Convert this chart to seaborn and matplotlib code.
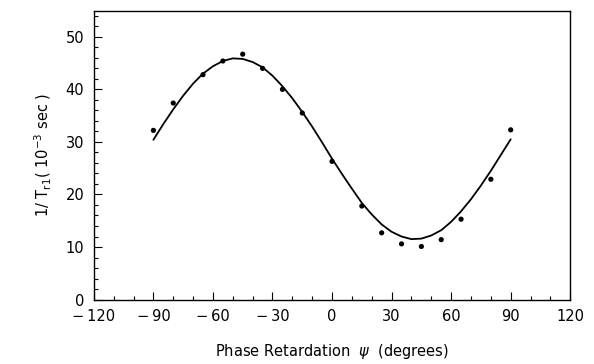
import matplotlib
matplotlib.use('Agg')
import matplotlib.pyplot as plt
from matplotlib.ticker import MultipleLocator
import seaborn as sns
import pandas as pd

# measured points: phase retardation (deg) vs 1/T_r1 (1e-3 /sec)
psi_meas = [-90, -80, -65, -55, -45, -35, -25, -15, 0, 15, 25, 35, 45, 55, 65, 80, 90]
rate_meas = [32.2, 37.4, 42.8, 45.4, 46.7, 44.0, 40.0, 35.5, 26.3,
             17.8, 12.7, 10.6, 10.1, 11.4, 15.3, 22.9, 32.3]

# fitted curve, every 5 degrees
psi_fit = list(range(-90, 95, 5))
rate_fit = [30.4, 33.4, 36.2, 38.8, 41.1, 43.0, 44.4, 45.4, 45.9, 45.8,
            45.2, 44.2, 42.6, 40.6, 38.3, 35.7, 32.9, 29.9, 26.8, 23.9,
            21.1, 18.4, 16.2, 14.3, 12.9, 12.0, 11.5, 11.6, 12.2, 13.2,
            14.8, 16.8, 19.1, 21.7, 24.5, 27.5, 30.5]

meas = pd.DataFrame({'psi': psi_meas, 'rate': rate_meas})
fit = pd.DataFrame({'psi': psi_fit, 'rate': rate_fit})

sns.set_style('ticks')
plt.rcParams['font.family'] = ['DejaVu Sans']
plt.rcParams['text.color'] = 'black'
plt.rcParams['axes.labelcolor'] = 'black'
plt.rcParams['xtick.color'] = 'black'
plt.rcParams['ytick.color'] = 'black'

fig = plt.figure(figsize=(5.94, 3.64), dpi=100)
ax = fig.add_axes([0.158, 0.177, 0.802, 0.794])

sns.lineplot(data=fit, x='psi', y='rate', color='black', linewidth=1.3, ax=ax)
sns.scatterplot(data=meas, x='psi', y='rate', color='black', s=14, edgecolor='none', ax=ax, zorder=3)

ax.set_xlim(-120, 120)
ax.set_ylim(0, 55)
ax.xaxis.set_major_locator(MultipleLocator(30))
ax.xaxis.set_minor_locator(MultipleLocator(10))
ax.yaxis.set_major_locator(MultipleLocator(10))
ax.yaxis.set_minor_locator(MultipleLocator(2))
ax.tick_params(which='both', direction='in', top=False, right=False, labelsize=10.5, width=0.8)
ax.tick_params(which='major', length=6, pad=7)
ax.tick_params(which='minor', length=3)
ax.set_xticklabels([f'{int(v)}'.replace('-', '\u2212\u2009') for v in ax.get_xticks()])

for s in ax.spines.values():
    s.set_linewidth(1.0)
    s.set_color('black')

ax.set_xlabel(r'Phase Retardation  $\psi$  (degrees)', fontsize=10.5, labelpad=13)
ax.set_ylabel(r'1/ T$_{\mathrm{r1}}$( 10$^{-3}$ sec )', fontsize=10.5, labelpad=8)

fig.savefig('out.png', dpi=100)
